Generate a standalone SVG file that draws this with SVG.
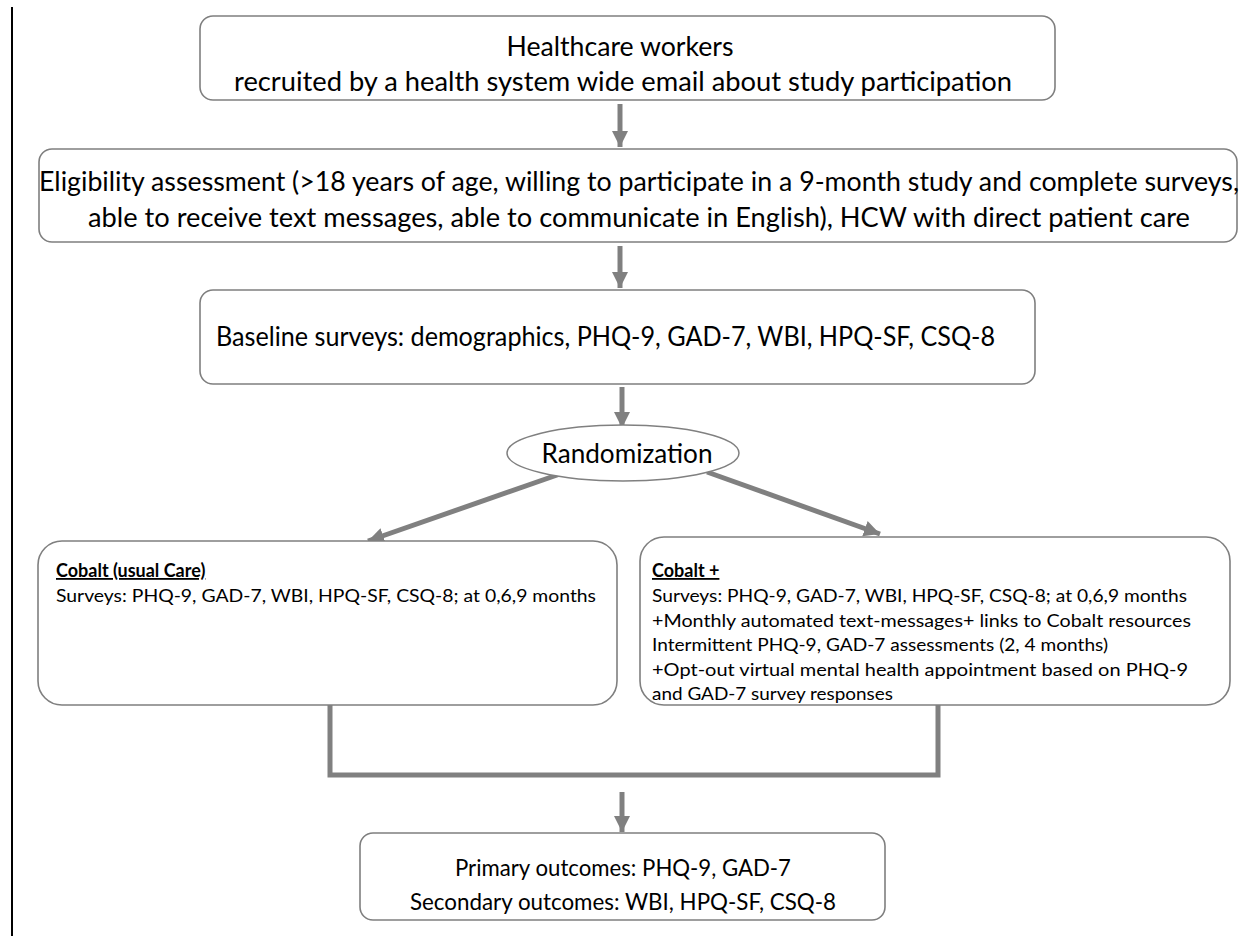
<svg xmlns="http://www.w3.org/2000/svg" width="1248" height="937" viewBox="0 0 1248 937">
<defs>
<style>
.box{fill:#fff;stroke:#7f7f7f;stroke-width:1.6}
.t{font-family:Lato,"Liberation Sans",sans-serif;fill:#000}
.c{text-anchor:middle}
.con{stroke:#808080;stroke-width:5;fill:none}
.b{font-weight:bold;text-decoration:underline}
</style>
<marker id="ah" markerUnits="userSpaceOnUse" markerWidth="18" markerHeight="18" viewBox="0 0 18 18" refX="16" refY="9" orient="auto">
<path d="M0,1 L16,9 L0,17 Z" fill="#808080"/>
</marker>
</defs>
<rect width="1248" height="937" fill="#fff"/>
<line x1="12" y1="7" x2="12" y2="936" stroke="#000" stroke-width="2"/>

<g id="connectors">
<line class="con" x1="620" y1="104" x2="620" y2="147" marker-end="url(#ah)"/>
<line class="con" x1="620" y1="246" x2="620" y2="288" marker-end="url(#ah)"/>
<line class="con" x1="622" y1="387" x2="622" y2="428" marker-end="url(#ah)"/>
<line class="con" x1="560" y1="474" x2="368" y2="541" marker-end="url(#ah)"/>
<line class="con" x1="707" y1="472" x2="880" y2="534" marker-end="url(#ah)"/>
<polyline class="con" points="330,705 330,775 938,775 938,705"/>
<line class="con" x1="622" y1="792" x2="622" y2="832" marker-end="url(#ah)"/>
</g>

<g id="n1">
<rect class="box" x="200" y="16" width="855" height="84" rx="13"/>
<text class="t c" x="620" y="56" font-size="26" textLength="227" lengthAdjust="spacingAndGlyphs">Healthcare workers</text>
<text class="t c" x="623" y="91" font-size="26" textLength="778" lengthAdjust="spacingAndGlyphs">recruited by a health system wide email about study participation</text>
</g>

<g id="n2">
<rect class="box" x="39" y="149" width="1198" height="93" rx="13"/>
<text class="t c" x="639" y="191" font-size="26" textLength="1200" lengthAdjust="spacingAndGlyphs">Eligibility assessment (&gt;18 years of age, willing to participate in a 9-month study and complete surveys,</text>
<text class="t c" x="639" y="227" font-size="26" textLength="1102" lengthAdjust="spacingAndGlyphs">able to receive text messages, able to communicate in English), HCW with direct patient care</text>
</g>

<g id="n3">
<rect class="box" x="200" y="290" width="835" height="94" rx="13"/>
<text class="t" x="216" y="346" font-size="26" textLength="779" lengthAdjust="spacingAndGlyphs">Baseline surveys: demographics, PHQ-9, GAD-7, WBI, HPQ-SF, CSQ-8</text>
</g>

<g id="n4">
<ellipse cx="623" cy="453" rx="116" ry="28" fill="#fff" stroke="#808080" stroke-width="1.5"/>
<text class="t c" x="627" y="463" font-size="27" textLength="171" lengthAdjust="spacingAndGlyphs">Randomization</text>
</g>

<g id="n5">
<rect class="box" x="38" y="541" width="579" height="164" rx="24"/>
<text class="t b" x="56" y="577" font-size="18">Cobalt (usual Care)</text>
<text class="t" x="56" y="602" font-size="18" textLength="540" lengthAdjust="spacingAndGlyphs">Surveys: PHQ-9, GAD-7, WBI, HPQ-SF, CSQ-8;  at 0,6,9 months</text>
</g>

<g id="n6">
<rect class="box" x="640" y="537" width="590" height="168" rx="24"/>
<text class="t b" x="652" y="577" font-size="18">Cobalt +</text>
<text class="t" x="652" y="602" font-size="18" textLength="535" lengthAdjust="spacingAndGlyphs">Surveys: PHQ-9, GAD-7, WBI, HPQ-SF, CSQ-8; at 0,6,9 months</text>
<text class="t" x="652" y="627" font-size="18" textLength="539" lengthAdjust="spacingAndGlyphs">+Monthly automated text-messages+ links to Cobalt resources</text>
<text class="t" x="652" y="651" font-size="18" textLength="456" lengthAdjust="spacingAndGlyphs">Intermittent PHQ-9, GAD-7 assessments (2, 4 months)</text>
<text class="t" x="652" y="676" font-size="18" textLength="536" lengthAdjust="spacingAndGlyphs">+Opt-out virtual mental health appointment based on PHQ-9</text>
<text class="t" x="652" y="700" font-size="18" textLength="241" lengthAdjust="spacingAndGlyphs">and GAD-7 survey responses</text>
</g>

<g id="n7">
<rect class="box" x="360" y="833" width="525" height="87" rx="13"/>
<text class="t c" x="623" y="876" font-size="23" textLength="336" lengthAdjust="spacingAndGlyphs">Primary outcomes: PHQ-9, GAD-7</text>
<text class="t c" x="623" y="910" font-size="23" textLength="426" lengthAdjust="spacingAndGlyphs">Secondary outcomes: WBI, HPQ-SF, CSQ-8</text>
</g>
</svg>
